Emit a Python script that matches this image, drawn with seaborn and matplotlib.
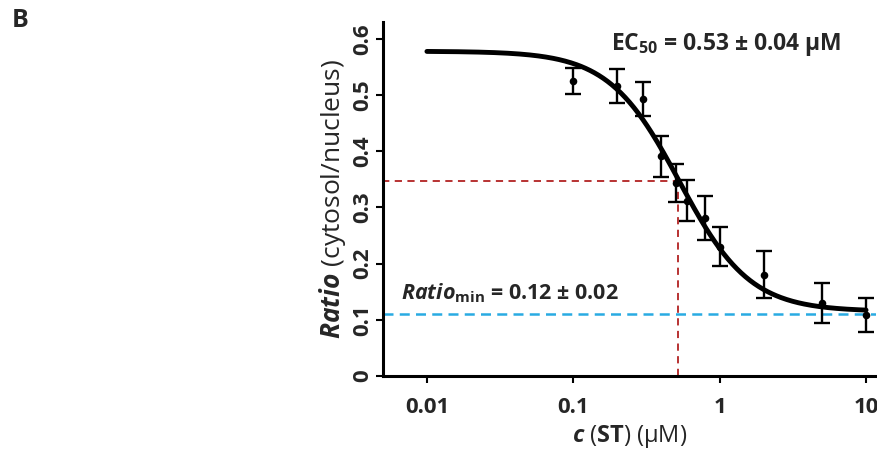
import numpy as np
import pandas as pd
import matplotlib
matplotlib.use("Agg")
import matplotlib.pyplot as plt
import seaborn as sns

# ---- data ----
conc = [0.1, 0.2, 0.3, 0.4, 0.5, 0.6, 0.8, 1.0, 2.0, 5.0, 10.0]
ratio = [0.525, 0.516, 0.493, 0.391, 0.343, 0.312, 0.281, 0.230, 0.180, 0.130, 0.108]
ratio_err = [0.023, 0.030, 0.030, 0.037, 0.034, 0.036, 0.039, 0.035, 0.042, 0.035, 0.030]

# fitted dose-response parameters (as shown in the chart)
fit_top = 0.578
fit_bottom = 0.115
fit_ec50 = 0.53
fit_hill = 1.8
fit_range = [0.01, 10.0]

ec50_line_x = 0.52
ec50_line_y = 0.347
min_line_y = 0.11

xticks = [0.01, 0.1, 1, 10]
xticklabels = ["0.01", "0.1", "1", "10"]
yticks = [0, 0.1, 0.2, 0.3, 0.4, 0.5, 0.6]
yticklabels = ["0", "0.1", "0.2", "0.3", "0.4", "0.5", "0.6"]

sns.set_theme(style="ticks")
plt.rcParams["font.family"] = ["Open Sans", "DejaVu Sans"]
plt.rcParams["mathtext.fontset"] = "custom"
plt.rcParams["mathtext.rm"] = "Open Sans"
plt.rcParams["mathtext.it"] = "Open Sans:italic"
plt.rcParams["mathtext.bf"] = "Open Sans:bold"
plt.rcParams["mathtext.bfit"] = "Open Sans:italic:bold"

fig = plt.figure(figsize=(8.77, 4.5), dpi=100)
ax = fig.add_axes([0.4367, 0.1644, 0.5622, 0.7867])

# fitted curve
xs = np.logspace(np.log10(fit_range[0]), np.log10(fit_range[1]), 300)
ys = fit_bottom + (fit_top - fit_bottom) / (1 + (xs / fit_ec50) ** fit_hill)
curve = pd.DataFrame({"c": xs, "ratio": ys})
sns.lineplot(data=curve, x="c", y="ratio", ax=ax, color="black", lw=3.5, zorder=4)

# reference lines
ax.plot([1e-3, ec50_line_x], [ec50_line_y, ec50_line_y], ls=(0, (4, 3)), color="#b22222", lw=1.3, zorder=2)
ax.plot([ec50_line_x, ec50_line_x], [0, ec50_line_y], ls=(0, (4, 3)), color="#b22222", lw=1.3, zorder=2)
ax.axhline(min_line_y, ls=(0, (4, 2.5)), color="#29abe2", lw=1.8, zorder=2)

# data points with error bars
pts = pd.DataFrame({"c": conc, "ratio": ratio, "err": ratio_err})
ax.errorbar(pts["c"], pts["ratio"], yerr=pts["err"], fmt="none", ecolor="black",
            elinewidth=1.7, capsize=6, capthick=1.7, zorder=5)
sns.scatterplot(data=pts, x="c", y="ratio", ax=ax, color="black", s=30, zorder=6,
                edgecolor="black", linewidth=0)

ax.set_xscale("log")
ax.set_xlim(0.00501, 11.7)
ax.set_ylim(0, 0.63)
ax.set_xticks(xticks)
ax.set_xticklabels(xticklabels, fontsize=16, fontweight="bold")
ax.set_yticks(yticks)
ax.set_yticklabels(yticklabels, fontsize=16, fontweight="bold", rotation=90, va="center")
ax.minorticks_off()
ax.tick_params(axis="both", width=1.5, length=5, color="black")
ax.tick_params(axis="x", pad=10)
ax.tick_params(axis="y", pad=2)

for s in ["top", "right"]:
    ax.spines[s].set_visible(False)
for s in ["left", "bottom"]:
    ax.spines[s].set_linewidth(2.2)
    ax.spines[s].set_color("black")

ax.set_xlabel(r"$\mathbfit{c}$ ($\mathbf{ST}$) (μM)", fontsize=17, labelpad=4)
ax.set_ylabel(r"$\mathbfit{Ratio}$ (cytosol/nucleus)", fontsize=19, labelpad=3)

fig.text(0.697, 0.90, r"$\mathbf{EC_{50}}$ = 0.53 ± 0.04 μM", fontsize=16.5, fontweight="bold",
         ha="left", va="center")
ax.text(0.0066, 0.147, r"$\mathbfit{Ratio}_{\mathbf{min}}$ = 0.12 ± 0.02", fontsize=15.5,
        fontweight="bold", ha="left", va="center")
fig.text(0.013, 0.955, "B", fontsize=18, fontweight="bold", ha="left", va="center")

fig.savefig("out.png", dpi=100)
